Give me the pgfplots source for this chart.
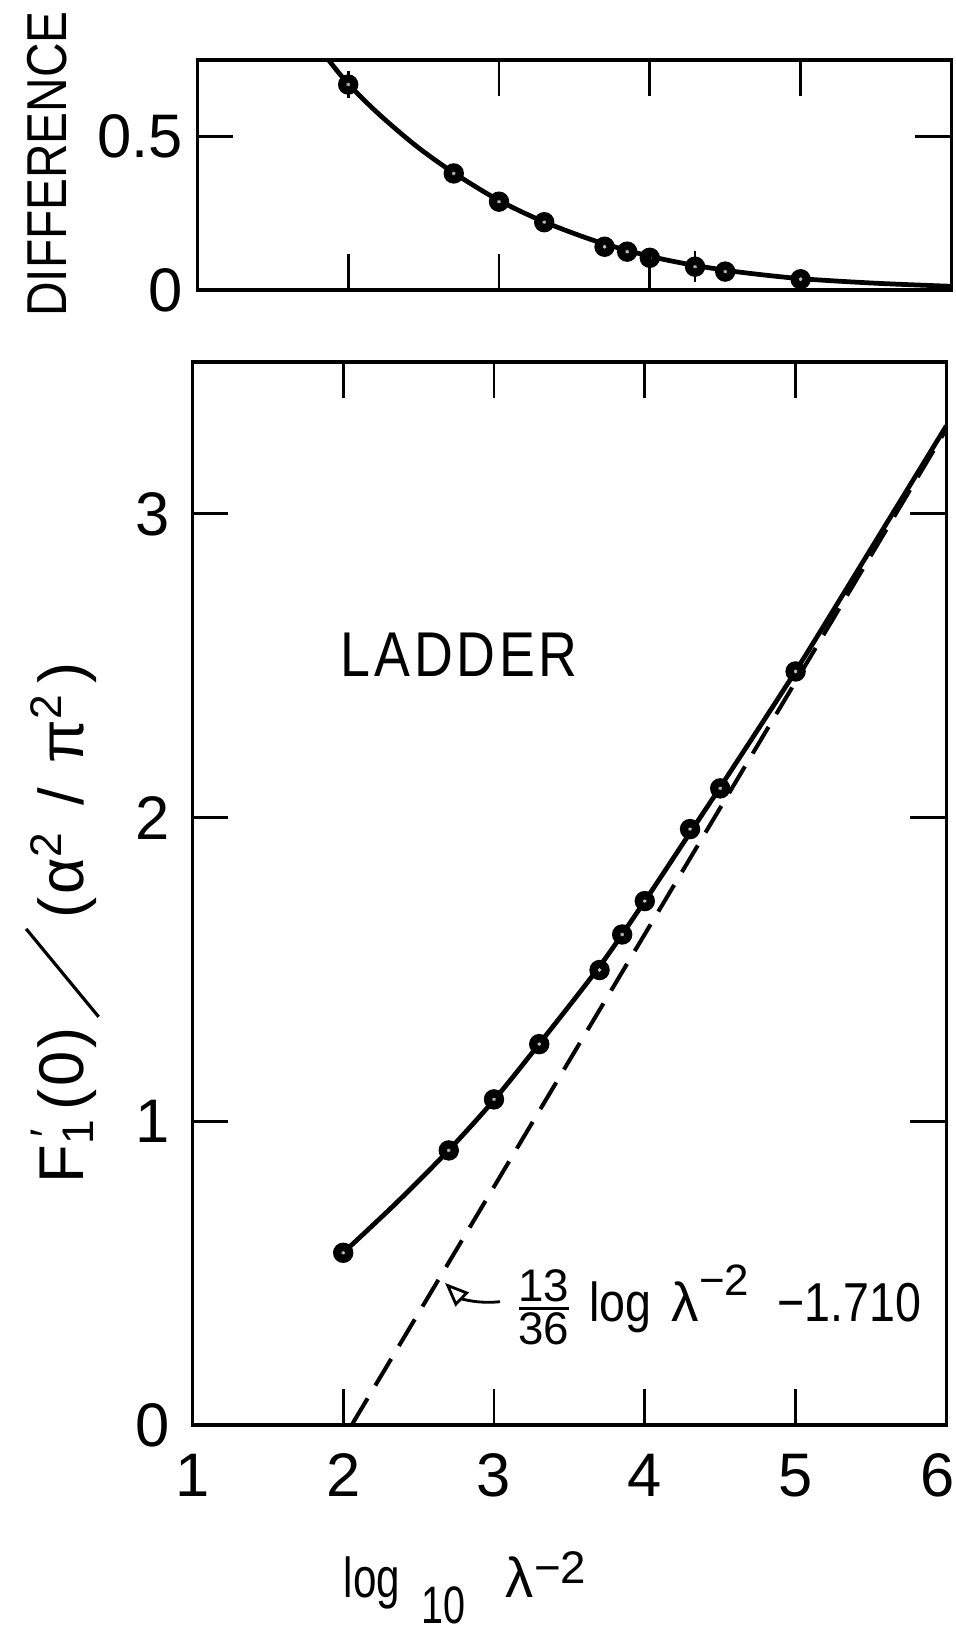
\documentclass[border=0pt]{standalone}
\usepackage{fontspec}
\setmainfont{Liberation Sans}
\newfontfamily\narrowA{Liberation Sans}[FakeStretch=0.75]
\newfontfamily\narrowB{Liberation Sans}[FakeStretch=0.85]
\usepackage{amsmath}
\usepackage{graphicx}
\usepackage{pgfplots}
\pgfplotsset{compat=1.18}
\usetikzlibrary{arrows.meta}

\pgfplotsset{
  refstyle/.style={
    scale only axis,
    xmin=1, xmax=6,
    tick align=inside,
    major tick length=3.6mm,
    every tick/.style={line width=0.85pt, black},
    axis line style={line width=0.9pt},
    ticklabel style={font=\fontsize{17.5}{20}\selectfont},
    xticklabel style={inner sep=0pt},
    xticklabel shift=2.8mm,
    yticklabel style={inner sep=0pt},
    /pgf/number format/assume math mode=true,
  }
}

\begin{document}
\begin{tikzpicture}
% ---------------- main panel ----------------
\begin{axis}[
  refstyle,
  at={(0mm,0mm)}, anchor=south west,
  width=75.4mm, height=106.3mm,
  ymin=0, ymax=3.5,
  xtick={1,2,3,4,5,6},
  xticklabels={1,2,3,4,5,{\hspace*{-0.9mm}6\hspace*{0.9mm}}},
  ytick={0,1,2,3},
  yticklabels={0,1,2,3},
  yticklabel shift=2.2mm,
]
% smooth curve through the data
\addplot[line width=1.35pt, smooth, tension=0.5] coordinates {
  (2.0,0.567) (2.35,0.73) (2.7,0.905) (3.0,1.07) (3.3,1.255) (3.7,1.51)
  (4.0,1.725) (4.3,1.95) (4.5,2.10) (5.0,2.482) (5.5,2.885) (6.0,3.29)
};
% asymptote 13/36 log(lambda^-2) - 1.710
\addplot[line width=1.15pt, dash pattern=on 3.1mm off 1.5mm] coordinates {
  (2.0565,0) (6.0,3.279)
};
% data points
\addplot[only marks, mark=*, mark size=0.95mm, black] coordinates {
  (2.0,0.567) (2.7,0.904) (3.0,1.072) (3.3,1.254) (3.7,1.498)
  (3.85,1.615) (4.0,1.725) (4.3,1.962) (4.5,2.096) (5.0,2.481)
};
\addplot[only marks, mark=asterisk, mark size=0.18mm, gray!50, line width=0.25pt] coordinates {
  (2.0,0.567) (2.7,0.904) (3.0,1.072) (3.3,1.254) (3.7,1.498)
  (3.85,1.615) (4.0,1.725) (4.3,1.962) (4.5,2.096) (5.0,2.481)
};
\node[font=\narrowB\fontsize{18}{22}\selectfont, anchor=center, inner sep=0pt] at (axis cs:2.77,2.535) {L\kern0.06em A\kern0.06em D\kern0.06em D\kern0.06em E\kern0.06em R};
\draw[-{Triangle[open, length=2.4mm, width=1.9mm]}, line width=0.8pt]
  (axis cs:3.04,0.406) to[bend left=25] (axis cs:2.675,0.468);
\node[anchor=base west, inner sep=0pt, font=\fontsize{15.6}{18}\selectfont] at (axis cs:3.13,0.342)
  {$\genfrac{}{}{0.8pt}{}{\hbox{\fontsize{13}{13}\selectfont 13}}{\hbox{\fontsize{13}{13}\selectfont 36}}$\hspace{1.6mm}{\narrowB log}\hspace{2mm}λ\raisebox{2.6mm}{\fontsize{12.5}{12.5}\selectfont −2}\hspace{2.8mm}{\narrowB −1.710}};
\end{axis}

% ---------------- difference panel ----------------
\begin{axis}[
  refstyle,
  at={(0.5mm,113.5mm)}, anchor=south west,
  width=75.4mm, height=23mm,
  ymin=0, ymax=0.75,
  xtick={3,4,5}, xtick pos=right, xticklabels={},
  ytick={0,0.5}, yticklabels={0,0.5},
  yticklabel shift=1.4mm,
]
\addplot[line width=1.35pt, smooth, tension=0.5] coordinates {
  (1.87,0.75) (2.0,0.672) (2.2,0.575) (2.45,0.47) (2.7,0.382) (3.0,0.292)
  (3.3,0.222) (3.65,0.158) (4.0,0.11) (4.3,0.08) (4.6,0.058) (5.0,0.037)
  (5.5,0.022) (6.0,0.012)
};
\addplot[only marks, mark=*, mark size=0.95mm, black,
  error bars/.cd, y dir=both, y explicit, error bar style={line width=0.8pt}, error mark=none]
  coordinates {
  (2.0,0.67) +- (0,0.045) (2.7,0.38) +- (0,0) (3.0,0.288) +- (0,0.03) (3.3,0.221) +- (0,0)
  (3.7,0.141) +- (0,0) (3.85,0.125) +- (0,0) (4.0,0.105) +- (0,0) (4.3,0.076) +- (0,0.05)
  (4.5,0.06) +- (0,0) (5.0,0.035) +- (0,0)
};
\addplot[only marks, mark=asterisk, mark size=0.18mm, gray!50, line width=0.25pt] coordinates {
  (2.0,0.67) (2.7,0.38) (3.0,0.288) (3.3,0.221) (3.7,0.141)
  (3.85,0.125) (4.0,0.105) (4.3,0.076) (4.5,0.06) (5.0,0.035)
};
\end{axis}
% bottom ticks of the difference panel
\begin{axis}[
  refstyle,
  at={(0.5mm,113.5mm)}, anchor=south west,
  width=75.4mm, height=23mm,
  ymin=0, ymax=0.75,
  axis x line*=bottom, axis y line=none,
  xtick={2,3,4}, xticklabels={},
]
\end{axis}

% ---------------- labels ----------------
\node[rotate=90, font=\narrowB\fontsize{16}{20}\selectfont, inner sep=0pt] at (-14.5mm,126.1mm) {DIFFERENCE};
\node[rotate=90, font=\fontsize{18}{22}\selectfont, inner sep=0pt] at (-13.0mm,50.2mm)
  {F\rlap{\textsuperscript{\,′}}\textsubscript{1}\kern0.12em(\kern0.05em0\kern0.05em)\kern0.15em\raisebox{-1.6mm}{\rotatebox{39.5}{\rule{11.4mm}{0.9pt}}}\kern0.15em(\kern0.05em α\textsuperscript{2}\hspace{0.4em}/\hspace{0.4em}π\textsuperscript{2}\kern0.15em)};
\node[anchor=base west, inner sep=0pt] at (15.06mm,-17.2mm)
  {{\narrowA\fontsize{16}{16}\selectfont log}\hspace{2.2mm}\raisebox{-2.6mm}{\narrowA\fontsize{15}{15}\selectfont 10}\hspace{4mm}{\fontsize{16}{16}\selectfont λ}\raisebox{1.4mm}{\fontsize{13}{13}\selectfont −2}};

\pgfresetboundingbox
\path[use as bounding box] (-19.24mm,-20.6mm) rectangle (76.36mm,142.5mm);
\end{tikzpicture}
\end{document}
